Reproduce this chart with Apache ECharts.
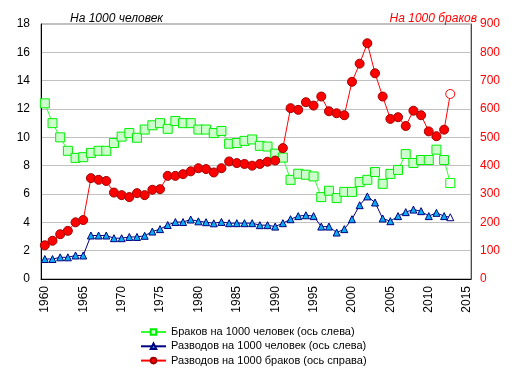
<!DOCTYPE html>
<html>
<head>
<meta charset="utf-8">
<script src="https://cdn.jsdelivr.net/npm/echarts@6/dist/echarts.min.js"></script>
<style>
  html, body { margin: 0; padding: 0; background: #fff; }
  #chart { width: 516px; height: 376px; }
</style>
</head>
<body>
<div id="chart"></div>
<script>
// годы (последняя точка — неполный год)
var years = [1960, 1961, 1962, 1963, 1964, 1965, 1966, 1967, 1968, 1969,
  1970, 1971, 1972, 1973, 1974, 1975, 1976, 1977, 1978, 1979,
  1980, 1981, 1982, 1983, 1984, 1985, 1986, 1987, 1988, 1989,
  1990, 1991, 1992, 1993, 1994, 1995, 1996, 1997, 1998, 1999,
  2000, 2001, 2002, 2003, 2004, 2005, 2006, 2007, 2008, 2009,
  2010, 2011, 2012, 2012.8];

var marriages = [12.4, 11.0, 10.0, 9.05, 8.55, 8.6, 8.9, 9.05, 9.05, 9.6,
  10.05, 10.3, 9.97, 10.55, 10.85, 11.0, 10.6, 11.15, 11.0, 11.0,
  10.55, 10.55, 10.3, 10.45, 9.55, 9.6, 9.75, 9.85, 9.4, 9.35,
  8.85, 8.57, 7.0, 7.43, 7.36, 7.24, 5.78, 6.23, 5.71, 6.15,
  6.15, 6.84, 7.0, 7.55, 6.72, 7.42, 7.7, 8.82, 8.19, 8.4,
  8.4, 9.13, 8.4, 6.77];

var divorces = [1.41, 1.41, 1.53, 1.53, 1.66, 1.66, 3.07, 3.07, 3.07, 2.88,
  2.88, 2.97, 2.97, 3.05, 3.35, 3.52, 3.81, 4.02, 4.02, 4.2,
  4.07, 4.01, 3.93, 4.03, 3.94, 3.94, 3.94, 3.94, 3.8, 3.8,
  3.7, 3.94, 4.22, 4.44, 4.5, 4.44, 3.7, 3.7, 3.28, 3.52,
  4.22, 5.21, 5.83, 5.4, 4.27, 4.08, 4.44, 4.72, 4.9, 4.79,
  4.44, 4.67, 4.44, 4.36];

var divPerMarr = [119, 135, 158, 170, 200, 208, 356, 350, 346, 305,
  296, 289, 303, 296, 315, 317, 364, 364, 370, 380,
  391, 388, 376, 391, 415, 409, 406, 400, 406, 414,
  418, 462, 603, 597, 624, 612, 644, 592, 585, 578,
  696, 760, 832, 726, 644, 565, 571, 540, 594, 578,
  521, 504, 527, 653];

var xLabels = [1960, 1965, 1970, 1975, 1980, 1985, 1990, 1995, 2000, 2005, 2010, 2015];

// последняя точка рисуется пустым маркером
function makeData(vals, lastBorder) {
  return vals.map(function (v, i) {
    if (i === vals.length - 1) {
      return { value: [years[i], v], itemStyle: { color: '#fff', borderColor: lastBorder } };
    }
    return [years[i], v];
  });
}

var myChart = echarts.init(document.getElementById('chart'));
var option = {
  animation: false,
  textStyle: { fontFamily: 'Liberation Sans, Arial, sans-serif' },
  title: [
    {
      text: 'На 1000 человек',
      left: 65,
      top: 8,
      textStyle: { fontSize: 12, fontStyle: 'italic', fontWeight: 'normal', color: '#000' }
    },
    {
      text: 'На 1000 браков',
      right: 34,
      top: 8,
      textStyle: { fontSize: 12, fontStyle: 'italic', fontWeight: 'normal', color: '#ff0000' }
    }
  ],
  grid: {
    left: 41,
    right: 45,
    top: 24,
    bottom: 97,
    show: true,
    borderColor: '#808080',
    borderWidth: 1,
    backgroundColor: 'transparent'
  },
  legend: {
    orient: 'vertical',
    left: 140,
    top: 326,
    padding: 0,
    itemWidth: 25,
    itemHeight: 7,
    itemGap: 2.3,
    textStyle: { fontSize: 11, lineHeight: 12, color: '#000' },
    data: ['Браков на 1000 человек (ось слева)', 'Разводов на 1000 человек (ось слева)', 'Разводов на 1000 браков (ось справа)']
  },
  xAxis: {
    type: 'value',
    min: 1959.5,
    max: 2015.5,
    splitLine: { show: false },
    axisTick: { show: false },
    axisLine: { lineStyle: { color: '#000', width: 1 } },
    axisLabel: {
      customValues: xLabels,
      rotate: 90,
      margin: 7,
      fontSize: 12,
      color: '#000',
      formatter: function (v) { return String(v); }
    }
  },
  yAxis: [
    {
      type: 'value',
      min: 0,
      max: 18,
      interval: 2,
      axisLine: { show: true, lineStyle: { color: '#000' } },
      axisTick: { show: false },
      axisLabel: { fontSize: 12, color: '#000', margin: 11 },
      splitLine: { lineStyle: { color: '#c0c0c0' } }
    },
    {
      type: 'value',
      min: 0,
      max: 900,
      interval: 100,
      position: 'right',
      axisLine: { show: true, lineStyle: { color: '#ff0000' } },
      axisTick: { show: false },
      axisLabel: { fontSize: 12, color: '#ff0000', margin: 9 },
      splitLine: { show: false }
    }
  ],
  series: [
    {
      name: 'Браков на 1000 человек (ось слева)',
      type: 'line',
      yAxisIndex: 0,
      data: makeData(marriages, '#00ff00'),
      symbol: 'rect',
      symbolSize: 9,
      lineStyle: { color: '#33ff33', width: 1 },
      itemStyle: { color: '#ccffcc', borderColor: '#00ee00', borderWidth: 1 },
      emphasis: { disabled: true }
    },
    {
      name: 'Разводов на 1000 человек (ось слева)',
      type: 'line',
      yAxisIndex: 0,
      data: makeData(divorces, '#000080'),
      symbol: 'triangle',
      symbolSize: 7,
      lineStyle: { color: '#000080', width: 1 },
      itemStyle: { color: '#0aaef0', borderColor: '#000080', borderWidth: 1 },
      emphasis: { disabled: true }
    },
    {
      name: 'Разводов на 1000 браков (ось справа)',
      type: 'line',
      yAxisIndex: 1,
      data: makeData(divPerMarr, '#ff0000'),
      symbol: 'circle',
      symbolSize: 9,
      lineStyle: { color: '#ff0000', width: 1 },
      itemStyle: { color: '#ff0000', borderColor: '#a00000', borderWidth: 1 },
      emphasis: { disabled: true }
    }
  ]
};
myChart.setOption(option);
</script>
</body>
</html>
